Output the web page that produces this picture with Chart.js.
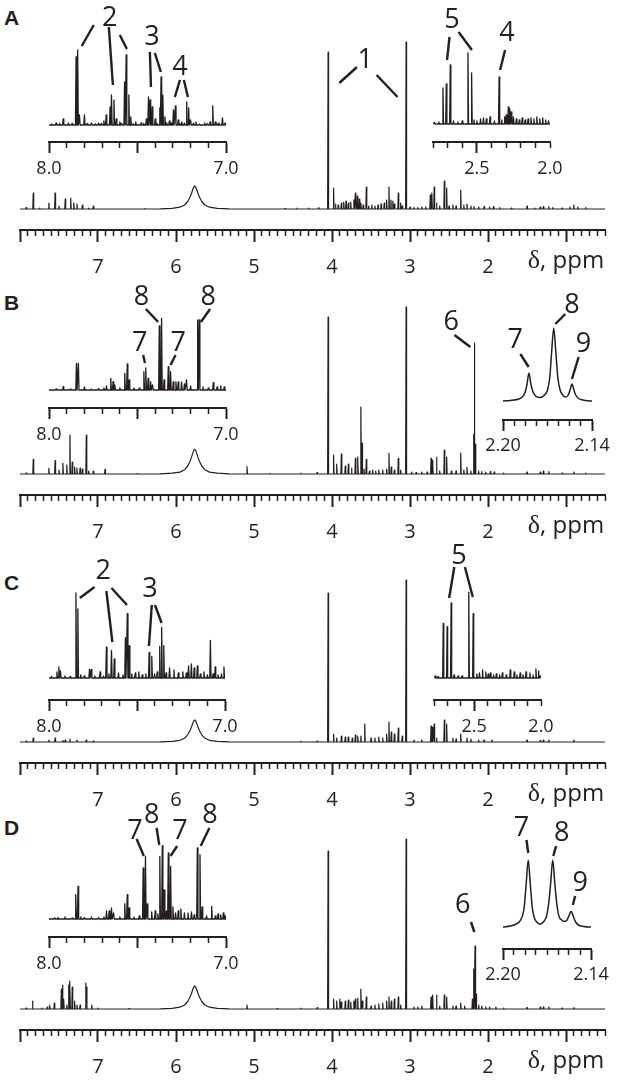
<!DOCTYPE html>
<html>
<head>
<meta charset="utf-8">
<script src="https://cdn.jsdelivr.net/npm/chart.js@4.4.1/dist/chart.umd.min.js"></script>
<style>
  html, body { margin: 0; padding: 0; background: #fff; }
  #fig { position: relative; width: 618px; height: 1082px; overflow: hidden; background: #fff; }
  #fig canvas { position: absolute; }
  .letter { position: absolute; left: 4px; font: bold 21px "Liberation Sans", Arial, sans-serif; line-height: 24px; color: #231f20; }
</style>
</head>
<body>
<div id="fig"></div>
<script>
const INK = '#231f20';
const FONT = '"Open Sans", "Noto Sans", sans-serif';

// broad urea signal: shared ppm grid, height in each spectrum
const ureaPpm = [6.20, 6.05, 5.95, 5.89, 5.85, 5.82, 5.80, 5.785, 5.77, 5.76, 5.75, 5.735, 5.72, 5.70, 5.67, 5.63, 5.57, 5.47, 5.32];
const ureaA = [0.2, 0.7, 1.8, 4, 7.5, 12, 16, 19.5, 22.3, 23, 22.3, 19.5, 16, 12, 7.5, 4, 1.8, 0.7, 0.2];
const ureaB = [0.2, 0.8, 1.9, 4.3, 8, 12.8, 17.1, 20.9, 23.9, 24.7, 23.9, 20.9, 17.1, 12.8, 8, 4.3, 1.9, 0.8, 0.2];
const ureaC = [0.2, 0.7, 1.7, 3.8, 7.2, 11.5, 15.4, 18.7, 21.4, 22, 21.4, 18.7, 15.4, 11.5, 7.2, 3.8, 1.7, 0.7, 0.2];
const ureaD = [0.2, 0.7, 1.8, 4, 7.5, 12, 16, 19.5, 22.3, 23, 22.3, 19.5, 16, 12, 7.5, 4, 1.8, 0.7, 0.2];

// sharp signals, [ppm, intensity]
const mainA = [[7.92,1.5],[7.83,16],[7.75,1],[7.63,6],[7.55,16],[7.50,3],[7.42,10],[7.35,11],[7.31,6],[7.27,5],[7.20,4],[7.12,1],[7.06,3],[6.40,0.5],
  [4.60,0.5],[4.45,0.8],[4.30,1],[4.17,1.5],[4.05,157],[3.98,21],[3.955,5],[3.92,4],[3.88,6],[3.85,7],[3.82,8],[3.79,6],[3.76,7],[3.72,9],[3.70,16],
  [3.675,13],[3.65,10],[3.63,6],[3.60,4],[3.56,22],[3.53,3],[3.49,4],[3.45,3],[3.41,4],[3.37,5],[3.33,6],[3.30,9],[3.27,22],[3.245,9],[3.22,8],
  [3.20,5],[3.15,16],[3.12,6],[3.10,3],[3.05,167],[3.00,2],[2.95,1.5],[2.90,1.5],[2.85,2],[2.80,2],[2.74,14],[2.72,16],[2.69,22],[2.66,6],[2.62,3],
  [2.56,28],[2.53,21],[2.50,3],[2.45,4],[2.41,3],[2.35,19],[2.31,4],[2.27,5],[2.22,3],[2.18,2.5],[2.12,2],[2.05,2.5],[1.98,2],[1.93,2.5],[1.85,1.5],
  [1.70,1],[1.50,3],[1.40,1],[1.33,2],[1.29,2.5],[1.22,2.5],[1.17,1.5],[1.05,1],[0.95,2],[0.90,4],[0.85,2],[0.75,1.5]];
const aroA = [[7.985,1],[7.96,2],[7.94,1.5],[7.92,6],[7.89,2],[7.87,1.5],[7.847,68],[7.838,75],[7.828,10],[7.80,10],[7.785,1.5],[7.76,2],[7.74,1],
  [7.72,2],[7.705,1.5],[7.69,4],[7.677,10],[7.655,18],[7.647,30],[7.633,25],[7.62,6],[7.60,3],[7.59,1.5],[7.573,43],[7.564,70],[7.549,30],[7.538,8],
  [7.525,1],[7.51,3],[7.48,2],[7.465,1.5],[7.45,6],[7.438,28],[7.429,25],[7.417,18],[7.40,6],[7.39,1.5],[7.374,17],[7.367,48],[7.357,30],[7.345,8],
  [7.335,2],[7.32,4],[7.31,2],[7.297,15],[7.286,19],[7.27,5],[7.26,1.5],[7.25,3],[7.235,2],[7.222,23],[7.211,17],[7.20,5],[7.185,1.5],[7.17,3],
  [7.15,1],[7.12,2],[7.105,1.5],[7.09,3],[7.075,19],[7.06,3],[7.05,1],[7.04,2],[7.02,7],[7.005,2]];
const aliA = [[2.79,1.5],[2.76,2],[2.732,36],[2.709,40],[2.682,59],[2.66,3],[2.63,2],[2.60,3],[2.561,71],[2.536,51],[2.52,4],[2.50,3],[2.475,5],
  [2.455,6],[2.435,5],[2.41,7],[2.38,3],[2.348,47],[2.33,4],[2.31,7],[2.30,9],[2.285,17],[2.275,15],[2.265,12],[2.25,7],[2.23,5],[2.21,4],[2.19,6],
  [2.17,4],[2.15,5],[2.13,6],[2.11,5],[2.09,7],[2.07,5],[2.05,6],[2.03,4],[2.01,3]];

const mainB = [[7.92,1],[7.83,14.7],[7.63,5.7],[7.55,13.3],[7.50,4],[7.45,10.7],[7.40,9],[7.36,39],[7.33,12],[7.30,7],[7.27,6],[7.23,6],[7.20,5],
  [7.15,39],[7.12,3],[7.06,3],[6.91,4.7],[6.50,0.5],[5.09,7.3],[4.80,0.5],[4.40,0.8],[4.19,1.5],[4.05,157],[3.98,19],[3.94,10],[3.88,20],[3.83,8],
  [3.79,10],[3.75,6],[3.70,15.7],[3.67,17],[3.63,67],[3.615,31],[3.59,5],[3.56,14.7],[3.52,3],[3.48,4],[3.44,3],[3.40,4],[3.35,4],[3.30,5],
  [3.27,20.7],[3.24,7],[3.20,4],[3.15,15.7],[3.12,4],[3.05,167],[2.98,2],[2.92,1.5],[2.85,2],[2.78,2],[2.73,15.7],[2.71,14],[2.66,16.7],[2.62,3],
  [2.56,24],[2.53,17],[2.47,3],[2.41,3],[2.35,21],[2.31,4],[2.27,6.7],[2.22,3],[2.185,40],[2.175,131],[2.16,30],[2.12,3],[2.08,2.5],[2.03,2],
  [1.97,2.5],[1.92,2],[1.80,1],[1.50,2],[1.33,2],[1.29,3],[1.22,2.5],[1.05,1],[0.90,2],[0.75,1]];
const aroB = [[7.96,1],[7.92,3.3],[7.88,1],[7.845,26.7],[7.834,26.7],[7.80,3],[7.76,1],[7.72,1.5],[7.69,2],[7.675,4],[7.651,11.7],[7.638,8.3],
  [7.628,5],[7.60,2],[7.572,16.7],[7.558,26],[7.547,10],[7.52,2],[7.49,2],[7.464,18.3],[7.453,22],[7.44,11.7],[7.426,8.3],[7.415,5],[7.377,64],
  [7.364,71.7],[7.35,10],[7.326,23.3],[7.313,18.3],[7.298,8],[7.283,8],[7.27,8],[7.251,8],[7.235,6],[7.223,10],[7.20,4],[7.16,70],[7.151,70],
  [7.13,3],[7.10,2],[7.072,7.3],[7.05,3],[7.03,4],[7.01,3]];
const meB = [[2.200,1],[2.195,1.5],[2.190,2.8],[2.187,5],[2.185,10],[2.1838,18],[2.1825,29],[2.1812,18],[2.180,11],[2.178,6],[2.175,4.5],
  [2.172,7],[2.170,12],[2.1685,24],[2.1672,50],[2.1658,74],[2.1644,50],[2.163,24],[2.1615,12],[2.160,7.5],[2.158,5],[2.156,7],[2.1548,12],
  [2.1535,18],[2.1522,12],[2.151,7],[2.149,3.5],[2.146,2],[2.143,1.2],[2.140,1]];

const mainC = [[7.92,1],[7.83,4],[7.63,2],[7.55,4],[7.45,1.5],[7.42,2],[7.36,3],[7.27,2],[7.15,2],[7.06,1],[4.40,0.8],[4.19,1],[4.05,149],
  [3.98,8],[3.94,4],[3.88,6],[3.83,5],[3.79,5],[3.74,4],[3.70,7],[3.67,6],[3.63,6],[3.58,18],[3.50,4],[3.45,4],[3.40,5],[3.35,4],[3.30,8],
  [3.27,20],[3.24,10],[3.20,8],[3.15,14],[3.10,6],[3.05,162],[2.95,2],[2.85,2],[2.73,16],[2.71,15],[2.69,18],[2.66,4],[2.56,22],[2.53,18],
  [2.45,4],[2.41,3],[2.35,8],[2.27,4],[2.22,3],[2.12,2],[2.05,2],[1.95,2],[1.50,2],[1.33,1.5],[1.29,2],[1.22,2],[0.90,2]];
const aroC = [[7.985,1.5],[7.955,6],[7.944,11],[7.935,7],[7.91,2],[7.88,1.5],[7.847,85],[7.836,69],[7.82,3],[7.80,2],[7.77,8.7],[7.76,8.7],
  [7.74,2],[7.71,6],[7.69,2],[7.674,30.8],[7.66,4],[7.645,27.7],[7.629,19],[7.605,5],[7.58,3],[7.566,40.3],[7.555,64.4],[7.544,32.4],[7.53,4],
  [7.51,5],[7.49,6],[7.47,3],[7.45,4],[7.431,25.7],[7.416,21.7],[7.40,4],[7.385,6],[7.371,31.6],[7.36,50.6],[7.348,32.4],[7.335,5],[7.315,10],
  [7.29,8],[7.265,5],[7.24,6],[7.22,5],[7.207,12],[7.191,14],[7.175,10],[7.157,12],[7.14,4],[7.12,6],[7.10,3],[7.083,37.5],[7.068,4],[7.056,11],
  [7.04,3],[7.02,4],[7.006,11]];
const aliC = [[2.79,2],[2.77,1.5],[2.731,54.5],[2.702,51.4],[2.672,75],[2.65,3],[2.62,2],[2.59,2],[2.54,85.8],[2.507,64.4],[2.48,4],[2.46,5],
  [2.437,8],[2.413,6],[2.395,4],[2.378,5],[2.355,3],[2.334,4],[2.31,3],[2.289,5],[2.26,3],[2.23,8],[2.20,6],[2.18,3],[2.156,5],[2.135,3],
  [2.112,6],[2.083,5],[2.06,3],[2.038,9],[2.018,7],[2.005,2]];

const mainD = [[7.92,1],[7.84,8],[7.72,1],[7.65,2],[7.62,4],[7.56,6],[7.47,20],[7.455,24],[7.44,10],[7.40,4],[7.375,24],[7.36,28],[7.33,22],
  [7.30,8],[7.27,4],[7.23,4],[7.16,26],[7.148,22],[7.08,4],[7.00,1],[6.60,0.5],[5.09,4],[4.70,0.5],[4.40,0.8],[4.19,1.5],[4.05,158],[3.98,10],
  [3.94,8],[3.90,10],[3.88,7],[3.83,8],[3.79,9],[3.76,7],[3.72,8],[3.70,10],[3.67,11],[3.63,20],[3.61,8],[3.56,12],[3.50,3],[3.45,4],[3.40,5],
  [3.35,6],[3.30,8],[3.27,12],[3.24,8],[3.20,10],[3.15,12],[3.12,4],[3.05,170],[2.95,2],[2.90,2],[2.85,3],[2.73,12],[2.71,14],[2.66,14],[2.62,3],
  [2.56,14],[2.53,12],[2.45,3],[2.41,3],[2.35,6],[2.30,3],[2.20,10],[2.183,40],[2.166,63],[2.153,15],[2.12,4],[2.08,3],[2.03,2],[1.98,2],
  [1.90,2],[1.80,1],[1.50,1.5],[1.33,2],[1.29,2],[1.22,2],[1.05,1],[0.90,1.5]];
const aroD = [[7.97,1],[7.95,1.5],[7.91,2],[7.87,1],[7.849,24.3],[7.836,32.7],[7.82,2],[7.80,1.5],[7.76,2],[7.72,1.5],[7.69,2],[7.675,8],[7.66,8],
  [7.647,11],[7.635,6],[7.60,2],[7.572,15.3],[7.558,24.3],[7.547,11],[7.52,2],[7.49,3],[7.468,51],[7.455,62.7],[7.445,15],[7.42,7],[7.40,8],
  [7.385,5],[7.374,62.7],[7.36,73.3],[7.349,29],[7.337,8],[7.326,66],[7.313,52.7],[7.30,12],[7.285,6],[7.27,8],[7.255,10],[7.235,6],[7.215,6],
  [7.195,7],[7.18,4],[7.162,71],[7.147,64.3],[7.135,12],[7.11,3],[7.081,12.7],[7.06,3],[7.045,5],[7.03,4],[7.015,6],[7.005,3]];
const meD = [[2.200,1],[2.195,2],[2.191,4],[2.188,8],[2.1856,20],[2.1842,44],[2.1828,68],[2.1814,44],[2.180,20],[2.1786,10],[2.177,6],
  [2.175,4],[2.1725,6],[2.1703,12],[2.1689,24],[2.1675,45],[2.1661,68],[2.1647,45],[2.1633,24],[2.1619,12],[2.160,8],[2.158,6.5],[2.1563,8],
  [2.1548,13],[2.1535,16.7],[2.1522,12],[2.1505,6],[2.148,2.5],[2.145,1.5],[2.142,1],[2.140,1]];

// axis kinds
const near = (a, b) => Math.abs(a - b) < 1e-4;
const AX = {
  main: { min: 0.5, max: 8.0, step: 0.1, major: v => near(v, Math.round(v)),
          label: v => (v > 1.5 && v < 7.5 && near(v, Math.round(v))) ? String(Math.round(v)) : '' },
  aro:  { min: 7.0, max: 8.0, step: 0.1, major: v => near(v * 2, Math.round(v * 2)),
          label: v => near(v, 8) ? '8.0' : near(v, 7) ? '7.0' : '' },
  ali:  { min: 2.0, max: 2.8, step: 0.1, major: v => near(v, 2.5),
          label: v => near(v, 2.5) ? '2.5' : near(v, 2.0) ? '2.0' : '' },
  me:   { min: 2.14, max: 2.20, step: 0.0075, major: v => near(v, 2.2) || near(v, 2.14),
          label: v => near(v, 2.2) ? '2.20' : near(v, 2.14) ? '2.14' : '' }
};

// numbered peak assignments, in data units of each plot
const panels = [
  { letter: 'A', top: 0, letterY: 18,
    main: { peaks: mainA, urea: ureaA, labels: [{ t: '1', x: 3.575, y: 149, L: [[3.68, 142, 3.906, 126], [3.428, 134, 3.16, 112]] }] },
    left: { kind: 'aro', x0: 49, x1: 226, axisY: 142, baseY: 125, peaks: aroA,
      labels: [{ t: '2', x: 7.657, y: 107, L: [[7.747, 100, 7.815, 79], [7.662, 98, 7.639, 40], [7.6, 90, 7.56, 76]] },
               { t: '3', x: 7.418, y: 88, L: [[7.43, 73, 7.424, 38], [7.402, 72, 7.368, 53]] },
               { t: '4', x: 7.26, y: 58, L: [[7.26, 45, 7.289, 28], [7.238, 45, 7.215, 28]] }] },
    right: { kind: 'ali', x0: 433, x1: 550, axisY: 142, baseY: 124, peaks: aliA,
      labels: [{ t: '5', x: 2.670, y: 104, L: [[2.687, 87, 2.704, 64], [2.625, 92, 2.534, 74]] },
               { t: '4', x: 2.295, y: 91, L: [[2.307, 74, 2.341, 54]] }] } },
  { letter: 'B', top: 265, letterY: 38,
    main: { peaks: mainB, urea: ureaB, labels: [{ t: '6', x: 2.473, y: 152, L: [[2.43, 139, 2.226, 127]] }] },
    left: { kind: 'aro', x0: 49, x1: 226, axisY: 143, baseY: 125, peaks: aroB,
      labels: [{ t: '8', x: 7.477, y: 93, L: [[7.453, 81, 7.383, 68]] },
               { t: '8', x: 7.10, y: 93, L: [[7.09, 81, 7.142, 68]] },
               { t: '7', x: 7.487, y: 47, L: [[7.468, 35, 7.458, 27]] },
               { t: '7', x: 7.27, y: 47, L: [[7.285, 35, 7.313, 25]] }] },
    right: { kind: 'me', x0: 503, x1: 592, axisY: 155, baseY: 137, curve: meB,
      labels: [{ t: '7', x: 2.1917, y: 62, L: [[2.1883, 48, 2.1827, 35]] },
               { t: '8', x: 2.1535, y: 97, L: [[2.158, 88, 2.1647, 78]] },
               { t: '9', x: 2.1457, y: 58, L: [[2.149, 45, 2.1535, 23]] }] } },
  { letter: 'C', top: 533, letterY: 50,
    main: { peaks: mainC, urea: ureaC, labels: [] },
    left: { kind: 'aro', x0: 49, x1: 225, axisY: 167, baseY: 145, peaks: aroC,
      labels: [{ t: '2', x: 7.692, y: 107, L: [[7.741, 91, 7.825, 80], [7.674, 87, 7.64, 36], [7.645, 90, 7.557, 73]] },
               { t: '3', x: 7.427, y: 89, L: [[7.416, 73, 7.432, 32], [7.398, 73, 7.36, 55]] }] },
    right: { kind: 'ali', x0: 434, x1: 541, axisY: 167, baseY: 145, peaks: aliC,
      labels: [{ t: '5', x: 2.613, y: 122, L: [[2.648, 111, 2.687, 80], [2.569, 111, 2.51, 81]] }] } },
  { letter: 'D', top: 800, letterY: 28,
    main: { peaks: mainD, urea: ureaD, labels: [{ t: '6', x: 2.324, y: 104, L: [[2.218, 87, 2.175, 77]] }] },
    left: { kind: 'aro', x0: 49, x1: 226, axisY: 137, baseY: 119, peaks: aroD,
      labels: [{ t: '7', x: 7.515, y: 88, L: [[7.505, 80, 7.464, 63]] },
               { t: '8', x: 7.42, y: 104, L: [[7.392, 91, 7.377, 74]] },
               { t: '7', x: 7.26, y: 88, L: [[7.276, 73, 7.313, 63]] },
               { t: '8', x: 7.09, y: 104, L: [[7.094, 91, 7.143, 73]] }] },
    right: { kind: 'me', x0: 503, x1: 591, axisY: 149, baseY: 128, curve: meD,
      labels: [{ t: '7', x: 2.1874, y: 100, L: [[2.184, 88, 2.1828, 75]] },
               { t: '8', x: 2.1599, y: 95, L: [[2.1638, 82, 2.1657, 72]] },
               { t: '9', x: 2.1474, y: 45, L: [[2.1508, 32, 2.1524, 23]] }] } }
];

// turn a peak list into a trace of narrow lines on a flat baseline
function trace(peaks, w, lo, hi, broadX, broadY) {
  const pts = [{ x: hi, y: 0 }, { x: lo, y: 0 }];
  peaks.forEach(([p, h]) => pts.push({ x: p + w, y: 0 }, { x: p, y: h }, { x: p - w, y: 0 }));
  if (broadX) broadX.forEach((p, i) => pts.push({ x: p, y: broadY[i] }));
  return pts.sort((a, b) => b.x - a.x);
}

function labelPlugin(items, unitAt) {
  return {
    id: 'peakLabels',
    afterDatasetsDraw(chart) {
      const { ctx, scales: { x, y } } = chart;
      ctx.save();
      ctx.fillStyle = INK;
      ctx.strokeStyle = INK;
      ctx.lineWidth = 2.4;
      ctx.font = '27px ' + FONT;
      ctx.textAlign = 'center';
      ctx.textBaseline = 'middle';
      items.forEach(it => {
        ctx.fillText(it.t, x.getPixelForValue(it.x), y.getPixelForValue(it.y));
        it.L.forEach(([x1, y1, x2, y2]) => {
          ctx.beginPath();
          ctx.moveTo(x.getPixelForValue(x1), y.getPixelForValue(y1));
          ctx.lineTo(x.getPixelForValue(x2), y.getPixelForValue(y2));
          ctx.stroke();
        });
      });
      // axis unit, centred on the 1 ppm tick, on the tick-label line
      if (unitAt) {
        const cx = x.getPixelForValue(unitAt);
        const by = x.bottom - 12;
        ctx.textAlign = 'left';
        ctx.textBaseline = 'alphabetic';
        ctx.font = '26px "Liberation Serif", serif';
        const d = 'δ';
        const dw = ctx.measureText(d).width;
        ctx.font = '24px ' + FONT;
        const rest = ', ppm';
        const rw = ctx.measureText(rest).width;
        const x0 = cx - (dw + rw) / 2;
        ctx.font = '26px "Liberation Serif", serif';
        ctx.fillText(d, x0, by);
        ctx.font = '24px ' + FONT;
        ctx.fillText(rest, x0 + dw, by);
      }
      ctx.restore();
    }
  };
}

function addCanvas(left, top, w, h) {
  const c = document.createElement('canvas');
  c.width = w; c.height = h;
  c.style.left = left + 'px'; c.style.top = top + 'px';
  c.style.width = w + 'px'; c.style.height = h + 'px';
  document.getElementById('fig').appendChild(c);
  return c;
}

function plot(canvas, o) {
  const ax = AX[o.kind];
  const isMaj = c => c.tick ? ax.major(c.tick.value) : true;
  return new Chart(canvas, {
    type: 'line',
    data: { datasets: [{ data: o.points, borderColor: INK, borderWidth: o.lw, pointRadius: 0, fill: false,
                         tension: 0, cubicInterpolationMode: o.smooth ? 'monotone' : 'default', borderJoinStyle: 'round' }] },
    options: {
      responsive: false, animation: false, devicePixelRatio: 1, events: [], parsing: false,
      layout: { padding: { left: o.padL, right: o.padR, top: 0, bottom: 0 } },
      plugins: { legend: { display: false }, tooltip: { enabled: false } },
      scales: {
        x: {
          type: 'linear', reverse: true, min: ax.min, max: ax.max,
          afterFit: s => { s.height = o.axisH; },
          border: { display: true, color: INK, width: 2 },
          grid: { drawOnChartArea: false, tickLength: o.tickLen, tickColor: INK,
                  tickWidth: c => isMaj(c) ? 2 : 1.5,
                  tickBorderDash: c => isMaj(c) ? [] : [o.minorLen, 80] },
          ticks: { stepSize: ax.step, autoSkip: false, maxRotation: 0, minRotation: 0, padding: o.tickPad, color: INK,
                   font: { family: FONT, size: o.fontSize },
                   callback: v => ax.label(v) }
        },
        y: { display: false, min: o.ymin, max: o.ymax }
      }
    },
    plugins: [labelPlugin(o.labels, o.unitAt)]
  });
}

function inset(panelTop, s) {
  const w = s.x1 - s.x0;
  const c = addCanvas(s.x0 - 30, panelTop, w + 60, s.axisY + 36);
  const ax = AX[s.kind];
  const pts = s.curve ? s.curve.map(([p, h]) => ({ x: p, y: h }))
                      : trace(s.peaks, s.kind === 'aro' ? 0.0035 : 0.004, ax.min, ax.max);
  plot(c, { kind: s.kind, points: pts, smooth: !!s.curve, lw: s.curve ? 1.5 : 1.3,
            padL: 30, padR: 30, axisH: 36, tickLen: 11, minorLen: 5, tickPad: s.curve ? 4 : 5, fontSize: 18,
            ymin: s.baseY - s.axisY, ymax: s.baseY, labels: s.labels });
}

function draw() {
  panels.forEach(p => {
    const d = document.createElement('div');
    d.className = 'letter';
    d.textContent = p.letter;
    d.style.top = (p.top + p.letterY - 12) + 'px';
    document.getElementById('fig').appendChild(d);

    const c = addCanvas(0, p.top, 618, 280);
    plot(c, { kind: 'main', points: trace(p.main.peaks, 0.006, 0.5, 8.0, ureaPpm, p.main.urea), lw: 1.2,
              padL: 20, padR: 10, axisH: 50, tickLen: 12, minorLen: 5, tickPad: 13, fontSize: 20,
              ymin: -21, ymax: 209, labels: p.main.labels, unitAt: 1 });
    inset(p.top, p.left);
    inset(p.top, p.right);
  });
}

Promise.all(['18px', '20px', '24px', '27px'].map(s => document.fonts.load(s + ' "Open Sans"'))
  .concat([document.fonts.load('26px "Liberation Serif"')]))
  .then(draw, draw);
</script>
</body>
</html>
